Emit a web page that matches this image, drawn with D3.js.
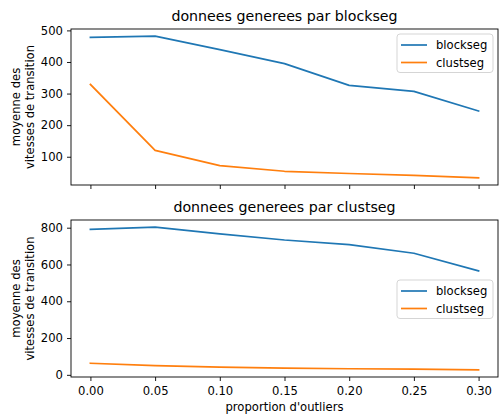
<!DOCTYPE html>
<html><head><meta charset="utf-8">
<script src="https://cdn.jsdelivr.net/npm/d3@7"></script>
<style>body{margin:0;background:#fff}svg{display:block}text{font-family:"DejaVu Sans",sans-serif;fill:#000}</style>
</head><body>
<svg id="c" width="501" height="417"></svg>
<script>
const proportions = [0.00, 0.05, 0.10, 0.15, 0.20, 0.25, 0.30];
const xTicks = [0.00, 0.05, 0.10, 0.15, 0.20, 0.25, 0.30];
const seriesNames = ["blockseg", "clustseg"];
const colors = ["#1f77b4", "#ff7f0e"];
const titles = ["donnees generees par blockseg", "donnees generees par clustseg"];
const topBlockseg = [478, 482, 439, 395, 326, 307, 245];
const topClustseg = [329, 120, 72, 54, 47, 41, 33];
const bottomBlockseg = [791, 803, 766, 733, 708, 661, 565];
const bottomClustseg = [63, 50, 42, 36, 33, 31, 27];
const topYTicks = [100, 200, 300, 400, 500];
const bottomYTicks = [0, 200, 400, 600, 800];
const yLabelLines = ["moyenne des", "vitesses de transition"];
const xLabel = "proportion d'outliers";

const svg = d3.select("#c");
const L = 71, R = 498;
const panels = [
  {top: 29, bottom: 185, series: [topBlockseg, topClustseg], ticks: topYTicks, title: titles[0], showX: false, legendTop: 34},
  {top: 220, bottom: 377, series: [bottomBlockseg, bottomClustseg], ticks: bottomYTicks, title: titles[1], showX: true, legendTop: 280}
];
const x = d3.scaleLinear().domain([-0.015, 0.315]).range([L, R]);

panels.forEach(p => {
  const all = p.series.flat();
  const mn = d3.min(all), mx = d3.max(all), m = (mx - mn) * 0.05;
  const y = d3.scaleLinear().domain([mn - m, mx + m]).range([p.bottom, p.top]);
  const g = svg.append("g");

  const line = d3.line().x((d, i) => x(proportions[i])).y(d => y(d));
  p.series.forEach((s, k) => {
    g.append("path").datum(s).attr("d", line).attr("fill", "none")
      .attr("stroke", colors[k]).attr("stroke-width", 1.7).attr("stroke-linejoin", "round").attr("stroke-linecap", "square");
  });

  const yAx = d3.axisLeft(y).tickValues(p.ticks).tickSize(4).tickPadding(4).tickFormat(d3.format("d"));
  const ya = g.append("g").attr("transform", `translate(${L},0)`).call(yAx);
  const xAx = d3.axisBottom(x).tickValues(xTicks).tickSize(4).tickPadding(4).tickFormat(p.showX ? d3.format(".2f") : () => "");
  const xa = g.append("g").attr("transform", `translate(0,${p.bottom})`).call(xAx);
  [ya, xa].forEach(a => {
    a.select(".domain").remove();
    a.selectAll(".tick line").attr("stroke", "#000").attr("stroke-width", 0.9);
    a.selectAll("text").attr("font-size", 11.6).attr("font-family", "DejaVu Sans").attr("fill", "#000");
  });
  xa.selectAll("text").attr("dy", "0.9em");

  g.append("rect").attr("x", L).attr("y", p.top).attr("width", R - L).attr("height", p.bottom - p.top)
    .attr("fill", "none").attr("stroke", "#000").attr("stroke-width", 0.9);

  g.append("text").attr("x", (L + R) / 2).attr("y", p.top - 8).attr("text-anchor", "middle")
    .attr("font-size", 14.2).text(p.title);

  const cy = (p.top + p.bottom) / 2;
  const yl = g.append("text").attr("transform", `translate(16,${cy}) rotate(-90)`).attr("text-anchor", "middle").attr("font-size", 11.6);
  yl.append("tspan").attr("x", 0).attr("dy", "0.35em").text(yLabelLines[0]);
  yl.append("tspan").attr("x", 0).attr("dy", "1.2em").text(yLabelLines[1]);

  const lg = g.append("g");
  lg.append("rect").attr("x", 397).attr("y", p.legendTop).attr("width", 96).attr("height", 38.5).attr("rx", 3)
    .attr("fill", "#fff").attr("fill-opacity", 0.8).attr("stroke", "#d0d0d0").attr("stroke-width", 0.9);
  seriesNames.forEach((n, k) => {
    const ry = p.legendTop + 11 + k * 17.5;
    lg.append("line").attr("x1", 401).attr("x2", 427).attr("y1", ry).attr("y2", ry)
      .attr("stroke", colors[k]).attr("stroke-width", 1.7);
    lg.append("text").attr("x", 436).attr("y", ry).attr("dy", "0.35em").attr("font-size", 11.6).text(n);
  });
});

svg.append("text").attr("x", (L + R) / 2).attr("y", 411).attr("text-anchor", "middle").attr("font-size", 11.6).text(xLabel);
</script>
</body></html>
